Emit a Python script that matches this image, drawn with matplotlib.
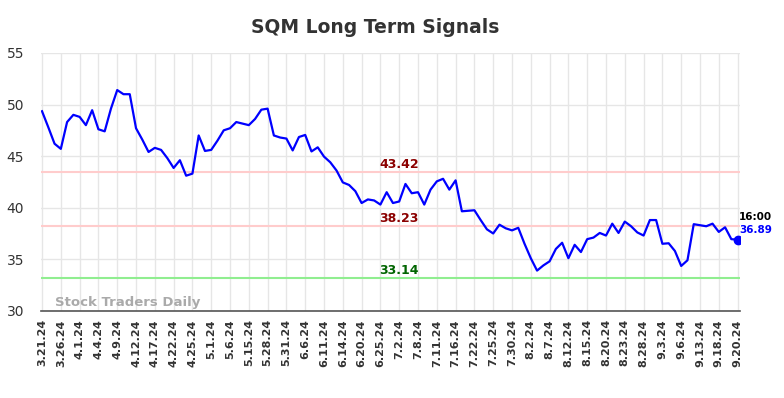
import numpy as np
import matplotlib.pyplot as plt

tick_labels = ["3.21.24", "3.26.24", "4.1.24", "4.4.24", "4.9.24", "4.12.24", "4.17.24",
               "4.22.24", "4.25.24", "5.1.24", "5.6.24", "5.15.24", "5.28.24", "5.31.24",
               "6.6.24", "6.11.24", "6.14.24", "6.20.24", "6.25.24", "7.2.24", "7.8.24",
               "7.11.24", "7.16.24", "7.22.24", "7.25.24", "7.30.24", "8.2.24", "8.7.24",
               "8.12.24", "8.15.24", "8.20.24", "8.23.24", "8.28.24", "9.3.24", "9.6.24",
               "9.13.24", "9.18.24", "9.20.24"]

prices = [49.35, 47.8, 46.2, 45.7, 48.3, 49.0, 48.8, 48.0, 49.45, 47.6,
          47.4, 49.6, 51.4, 51.0, 51.0, 47.7, 46.6, 45.4, 45.8, 45.6,
          44.8, 43.85, 44.6, 43.1, 43.3, 47.0, 45.5, 45.6, 46.5, 47.5,
          47.7, 48.3, 48.15, 48.0, 48.6, 49.5, 49.6, 47.0, 46.8, 46.7,
          45.55, 46.85, 47.05, 45.45, 45.85, 44.95, 44.4, 43.6, 42.45, 42.2,
          41.6, 40.45, 40.8, 40.7, 40.3, 41.5, 40.45, 40.6, 42.3, 41.4,
          41.5, 40.3, 41.75, 42.55, 42.8, 41.75, 42.65, 39.65, 39.7, 39.75,
          38.8, 37.9, 37.5, 38.35, 38.0, 37.8, 38.05, 36.5, 35.1, 33.9,
          34.4, 34.8, 36.0, 36.6, 35.1, 36.4, 35.7, 36.95, 37.1, 37.55,
          37.3, 38.45, 37.55, 38.65, 38.2, 37.6, 37.3, 38.8, 38.8, 36.5,
          36.55, 35.8, 34.35, 34.9, 38.4, 38.3, 38.2, 38.45, 37.65, 38.1,
          36.95, 36.89]

resistance_hi = 43.42
resistance_lo = 38.23
support = 33.14
last_time = "16:00"

fig = plt.figure(figsize=(7.84, 3.98), dpi=100)
ax = fig.add_axes([0.052, 0.219, 0.892, 0.648])

x = np.arange(len(prices))
tick_pos = np.arange(0, len(prices), 3)

ax.axhline(resistance_hi, color="#ffcccc", lw=1.5, zorder=1)
ax.axhline(resistance_lo, color="#ffcccc", lw=1.5, zorder=1)
ax.axhline(support, color="#90ee90", lw=1.5, zorder=1)

ax.plot(x, prices, color="#0000ff", lw=1.6, zorder=3)
ax.plot(x[-1], prices[-1], "o", color="#0000ff", ms=6, zorder=4)

# level labels sit just above their lines, mid chart
mid = 57
for level, col in [(resistance_hi, "#8b0000"), (resistance_lo, "#8b0000"),
                   (support, "#006400")]:
    ax.text(mid, level + 0.4, f"{level:.2f}", color=col, fontsize=9,
            fontweight="bold", ha="center", va="baseline")

ax.text(x[-1] + 0.2, prices[-1] + 2.2, last_time, color="black", fontsize=7.5,
        fontweight="bold", ha="left", va="center")
ax.text(x[-1] + 0.2, prices[-1] + 0.9, f"{prices[-1]:.2f}", color="#0000ff",
        fontsize=7.5, fontweight="bold", ha="left", va="center")

ax.text(2, 30.85, "Stock Traders Daily", color="#aaaaaa", fontsize=9.5,
        fontweight="bold", ha="left", va="center")

ax.set_xlim(-0.2, len(prices) - 0.6)
ax.set_ylim(30, 55)
ax.set_yticks([30, 35, 40, 45, 50, 55])
ax.set_xticks(tick_pos)
ax.set_xticklabels(tick_labels, rotation=90, fontsize=8, fontweight="bold",
                   color="#333333")
ax.tick_params(axis="y", labelsize=10, colors="#333333", length=0, pad=12)
ax.tick_params(axis="x", length=0, pad=6)

ax.grid(True, color="#e6e6e6", lw=1)
ax.set_axisbelow(True)
for side in ["left", "right", "top"]:
    ax.spines[side].set_visible(False)
ax.spines["bottom"].set_color("#555555")
ax.spines["bottom"].set_linewidth(1.2)

fig.suptitle("SQM Long Term Signals", x=0.478, y=0.955, fontsize=13.5,
             fontweight="bold", color="#333333")

fig.savefig("out.png", dpi=100)
